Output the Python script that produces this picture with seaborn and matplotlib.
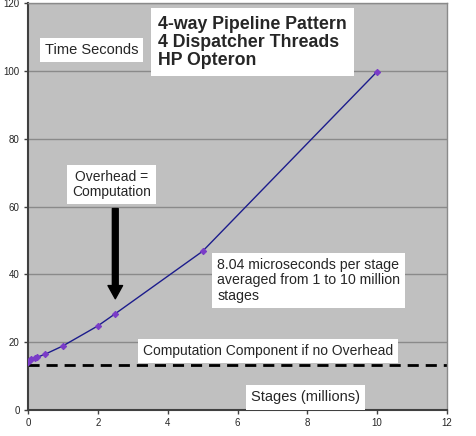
import numpy as np
import pandas as pd
import matplotlib
matplotlib.use("Agg")
import matplotlib.pyplot as plt
import seaborn as sns

stages = [0.01, 0.05, 0.1, 0.2, 0.25, 0.5, 1, 2, 2.5, 5, 10]
seconds = [14.2, 14.7, 15.0, 15.3, 15.5, 16.5, 18.9, 24.8, 28.4, 46.8, 99.8]
computation_only = 13.2

xticks = [0, 2, 4, 6, 8, 10, 12]
yticks = [0, 20, 40, 60, 80, 100, 120]

df = pd.DataFrame({"Stages": stages, "Seconds": seconds})

sns.set_style("white")
plt.rcParams["font.family"] = ["Liberation Sans", "DejaVu Sans"]

fig = plt.figure(figsize=(4.76, 4.36), dpi=100)
ax = fig.add_axes([0.0588, 0.0596, 0.8803, 0.9335])
ax.set_facecolor("#c0c0c0")

# horizontal gridlines only
for y in yticks[1:]:
    ax.axhline(y, color="#8a8a8a", lw=1, zorder=0)

sns.lineplot(data=df, x="Stages", y="Seconds", ax=ax, color="#1c1c8c", lw=1,
             marker="D", markersize=3.2, markerfacecolor="#7a3cc8",
             markeredgecolor="#7a3cc8", zorder=3)

ax.axhline(computation_only, color="black", lw=2, ls=(0, (4, 2.5)), zorder=2)

ax.set_xlim(0, 12)
ax.set_ylim(0, 120)
ax.set_xticks(xticks)
ax.set_yticks(yticks)
ax.tick_params(labelsize=7, length=3, width=1, color="#404040", pad=3,
               direction="out", left=True, bottom=True)
ax.set_xlabel("")
ax.set_ylabel("")
for s in ["left", "bottom"]:
    ax.spines[s].set_color("#404040")
    ax.spines[s].set_linewidth(1.5)
for s in ["top", "right"]:
    ax.spines[s].set_color("#8a8a8a")
    ax.spines[s].set_linewidth(1)

box = dict(boxstyle="square,pad=0.35", fc="white", ec="none")

ax.text(1.82, 106.2, "Time Seconds", fontsize=10.5, ha="center", va="center", bbox=box)
ax.text(3.72, 108.4, "4-way Pipeline Pattern\n4 Dispatcher Threads\nHP Opteron",
        fontsize=12.8, fontweight="bold", ha="left", va="center", linespacing=1.1,
        bbox=dict(boxstyle="square,pad=0.4", fc="white", ec="none"))
ax.text(2.39, 66.6, "Overhead =\nComputation", fontsize=10, ha="center", va="center",
        linespacing=1.1, bbox=box)
ax.text(5.42, 38.2, "8.04 microseconds per stage\naveraged from 1 to 10 million\nstages",
        fontsize=10.2, ha="left", va="center", linespacing=1.12, bbox=box)
ax.text(6.88, 17.5, "Computation Component if no Overhead", fontsize=10,
        ha="center", va="center", bbox=box)
ax.text(7.94, 3.7, "Stages (millions)", fontsize=10.5, ha="center", va="center", bbox=box)

ax.annotate("", xy=(2.5, 32.8), xytext=(2.5, 59.4),
            arrowprops=dict(facecolor="black", edgecolor="black", width=4.2,
                            headwidth=10.5, headlength=9.5, shrink=0))

fig.savefig("out.png", dpi=100)
